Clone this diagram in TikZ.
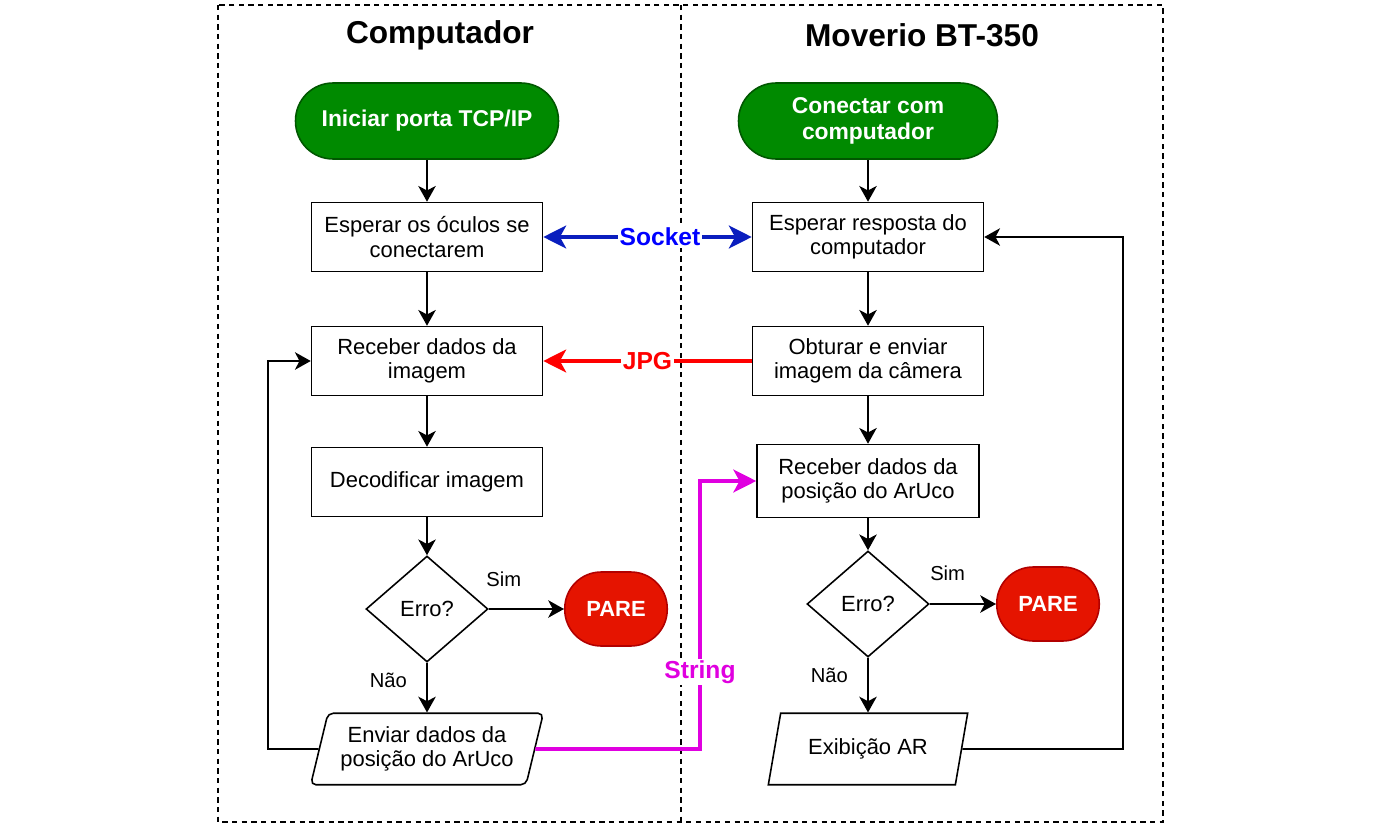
\documentclass[tikz,border=0pt]{standalone}
\usepackage{fontspec}
\setmainfont{Liberation Sans}
\usetikzlibrary{arrows.meta}
\usetikzlibrary{shapes.geometric}

\definecolor{pillgreen}{HTML}{008A00}
\definecolor{pillgreenline}{HTML}{005700}
\definecolor{stopred}{HTML}{E51400}
\definecolor{stopredline}{HTML}{B20000}
\definecolor{sockline}{HTML}{0A1EBE}
\definecolor{socktext}{HTML}{0000FF}
\definecolor{jpgred}{HTML}{FF0000}
\definecolor{strmag}{HTML}{E000E0}

\begin{document}
\begin{tikzpicture}[x=0.02cm, y=-0.02cm, >={Stealth[length=9pt,width=10pt,inset=2.6pt]},
    every node/.style={font=\fontsize{12.5}{13.7}\selectfont},
    flow/.style={line width=0.9pt},
    frame/.style={line width=0.9pt, dash pattern=on 3pt off 2.5pt},
    title/.style={font=\bfseries\fontsize{18}{21}\selectfont},
    startpill/.style={draw=pillgreenline, fill=pillgreen, text=white, line width=0.9pt, align=center,
        font=\bfseries\fontsize{13}{15}\selectfont, minimum width=5.26cm, minimum height=1.52cm, rounded corners=0.75cm},
    stoppill/.style={draw=stopredline, fill=stopred, text=white, line width=0.9pt,
        font=\bfseries\fontsize{12.5}{14}\selectfont, minimum width=2.05cm, minimum height=1.48cm, rounded corners=0.73cm},
    proc/.style={draw, line width=0.9pt, align=center, minimum width=4.62cm, minimum height=1.38cm},
    decision/.style={diamond, draw, line width=0.9pt, minimum width=2.44cm, minimum height=2.12cm, inner sep=0pt},
    dataio/.style={trapezium, trapezium left angle=74, trapezium right angle=106, trapezium stretches=true,
        draw, line width=0.9pt, align=center, minimum width=4.66cm, minimum height=1.43cm},
    lbl/.style={font=\fontsize{11.5}{13}\selectfont, inner sep=0pt},
    conlabel/.style={fill=white, inner sep=1pt, font=\bfseries\fontsize{14}{16}\selectfont},
    socketline/.style={draw=sockline, line width=2.2pt, >={Stealth[length=13pt,width=13pt,inset=3.5pt]}, <->},
    jpgline/.style={draw=jpgred, line width=2.2pt, >={Stealth[length=13pt,width=13pt,inset=3.5pt]}, ->},
    stringline/.style={draw=strmag, line width=2.2pt, >={Stealth[length=13pt,width=13pt,inset=3.5pt]}, ->}]

    \useasboundingbox (0,0) rectangle (1380,828);

    % frames
    \draw[frame] (218,5) rectangle (1163,822);
    \draw[frame] (681,5) -- (681,822);

    \node[title] (tcomp) at (440,35) {Computador};
    \node[title] (tmov) at (922,35) {Moverio BT-350};

    % computador
    \node[startpill] (iniciar) at (427,121) {Iniciar porta TCP/IP};
    \node[proc] (espoc) at (427,237) {Esperar os óculos se\\conectarem};
    \node[proc] (recimg) at (427,361) {Receber dados da\\imagem};
    \node[proc] (decod) at (427,482) {Decodificar imagem};
    \node[decision] (erro1) at (427,609) {Erro?};
    \node[stoppill] (pare1) at (616,609) {PARE};
    \node[dataio, rounded corners=3pt] (enviar) at (427,749) {Enviar dados da\\posição do ArUco};

    % moverio
    \node[startpill, minimum width=5.18cm] (conectar) at (868,121) {Conectar com\\computador};
    \node[proc] (espresp) at (868,237) {Esperar resposta do\\computador};
    \node[proc] (obturar) at (868,361) {Obturar e enviar\\imagem da câmera};
    \node[proc, minimum width=4.44cm, minimum height=1.46cm] (recpos) at (868,481) {Receber dados da\\posição do ArUco};
    \node[decision] (erro2) at (868,604) {Erro?};
    \node[stoppill] (pare2) at (1048,604) {PARE};
    \node[dataio, minimum width=4cm] (exib) at (868,749) {Exibição AR};

    \draw[flow, ->] (iniciar) -- (espoc);
    \draw[flow, ->] (espoc) -- (recimg);
    \draw[flow, ->] (recimg) -- (decod);
    \draw[flow, ->] (decod) -- (erro1);
    \draw[flow, ->] (erro1) -- node[lbl, pos=0.2, above=12pt]{Sim} (pare1);
    \draw[flow, ->] (erro1) -- node[lbl, pos=0.35, left=11pt]{Não} (enviar);
    \draw[flow, ->] (enviar.west) -- (268,749) |- (recimg.west);

    \draw[flow, ->] (conectar) -- (espresp);
    \draw[flow, ->] (espresp) -- (obturar);
    \draw[flow, ->] (obturar) -- (recpos);
    \draw[flow, ->] (recpos) -- (erro2);
    \draw[flow, ->] (erro2) -- node[lbl, pos=0.27, above=13pt]{Sim} (pare2);
    \draw[flow, ->] (erro2) -- node[lbl, pos=0.33, left=11pt]{Não} (exib);
    \draw[flow, ->] (exib.east) -- (1123,749) |- (espresp.east);

    % between devices
    \draw[socketline] (espoc) -- node[conlabel, text=socktext, pos=0.56]{Socket} (espresp);
    \draw[jpgline] (obturar) -- node[conlabel, text=jpgred, pos=0.5]{JPG} (recimg);
    \draw[stringline] (enviar.east) -- (700,749) |- node[conlabel, text=strmag, pos=0.144]{String} (recpos.west);

\end{tikzpicture}
\end{document}
